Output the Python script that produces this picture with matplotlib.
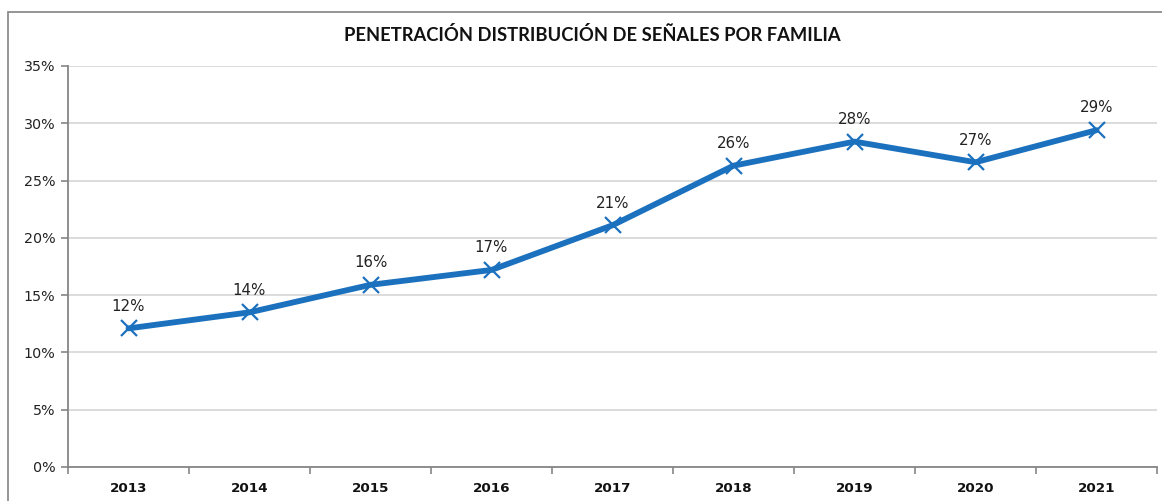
import matplotlib
matplotlib.use("Agg")
import matplotlib.pyplot as plt
from matplotlib.patches import Rectangle
from matplotlib.ticker import FixedLocator

plt.rcParams["font.family"] = ["DejaVu Sans"]

years = ["2013", "2014", "2015", "2016", "2017", "2018", "2019", "2020", "2021"]
values = [12.1, 13.5, 15.9, 17.2, 21.1, 26.3, 28.4, 26.6, 29.4]
labels = ["12%", "14%", "16%", "17%", "21%", "26%", "28%", "27%", "29%"]
yticks = [0, 5, 10, 15, 20, 25, 30, 35]
title = "PENETRACIÓN DISTRIBUCIÓN DE SEÑALES POR FAMILIA"

W, H = 1162, 501
fig = plt.figure(figsize=(W / 100, H / 100), dpi=100)
fig.patch.set_facecolor("white")

# outer chart border
fig.patches.append(Rectangle((8 / W, -0.05), 1.2, 1 - 11.5 / H + 0.05, transform=fig.transFigure,
                             fill=False, edgecolor="#8C8C8C", linewidth=1.3))

ax = fig.add_axes([68 / W, 1 - 467 / H, (1157 - 68) / W, (467 - 66) / H])
x = list(range(len(years)))
line_color = "#1C71BE"
ax.plot(x, values, color=line_color, linewidth=4.2, marker="x", markersize=12,
        markeredgewidth=1.6, markeredgecolor=line_color, solid_capstyle="round", zorder=3)

for xi, v, lab in zip(x, values, labels):
    ax.annotate(lab, (xi, v), xytext=(0, 16), textcoords="offset points",
                ha="center", va="center", fontsize=10.8, color="#222222", family="DejaVu Sans")

ax.set_xlim(-0.5, len(years) - 0.5)
ax.set_ylim(0, 35)
ax.set_yticks(yticks)
ax.set_yticklabels([f"{t}%" for t in yticks], fontsize=10.3, color="#222222", family="DejaVu Sans")
ax.yaxis.grid(True, color="#D9D9D9", linewidth=1.3)
ax.set_axisbelow(True)

ax.set_xticks(x)
ax.set_xticklabels(years, fontsize=9.7, fontweight="bold", color="#111111", family="DejaVu Sans")
ax.tick_params(axis="x", which="major", length=0, pad=11)
ax.xaxis.set_minor_locator(FixedLocator([i - 0.5 for i in range(len(years) + 1)]))
ax.tick_params(axis="x", which="minor", length=5, color="#868686", width=1.2)
ax.tick_params(axis="y", length=5, color="#868686", width=1.2, pad=4)

for s in ["top", "right"]:
    ax.spines[s].set_visible(False)
for s in ["left", "bottom"]:
    ax.spines[s].set_color("#868686")
    ax.spines[s].set_linewidth(1.3)

fig.text(592 / W, 1 - 35 / H, title, ha="center", va="center", fontsize=13.2,
         fontweight="bold", family="Lato", color="#111111")

fig.savefig("out.png", dpi=100, facecolor="white")
